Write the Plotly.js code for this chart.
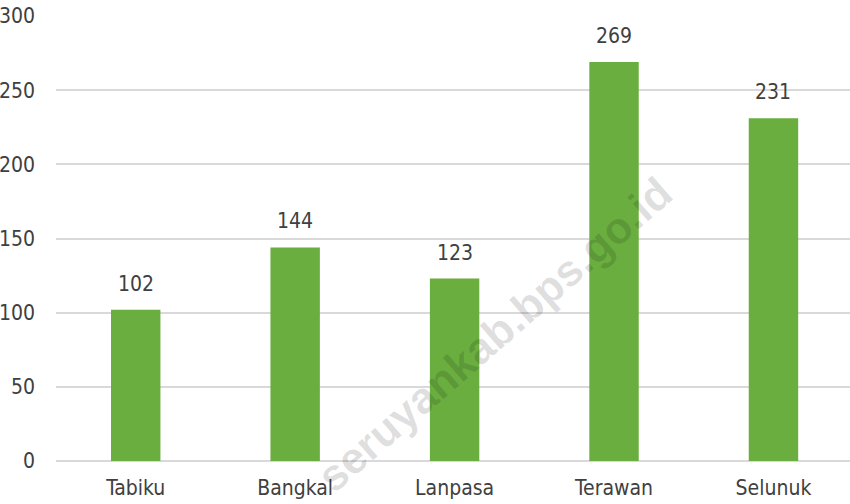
<!DOCTYPE html>
<html>
<head>
<meta charset="utf-8">
<script src="https://cdn.plot.ly/plotly-3.0.1.min.js"></script>
<style>
html,body{margin:0;padding:0;background:#fff;}
#chart{width:850px;height:504px;}
</style>
</head>
<body>
<div id="chart"></div>
<script>
const categories = ["Tabiku", "Bangkal", "Lanpasa", "Terawan", "Selunuk"];
const values = [102, 144, 123, 269, 231];
const yTicks = [0, 50, 100, 150, 200, 250, 300];
const watermarkText = "seruyankab.bps.go.id";

const labelFont = {family: "DejaVu Sans Condensed, Liberation Sans Narrow, sans-serif", size: 21, color: "#404040"};

const trace = {
  type: "bar",
  x: categories,
  y: values,
  marker: {color: "#6aae3f"},
  hoverinfo: "x+y"
};

const W = 850, H = 504, ml = 56, mr = 0, mt = 16, mb = 43;
const pw = W - ml - mr, ph = H - mt - mb;

const annotations = categories.map((c, i) => ({
  x: c, y: values[i], xref: "x", yref: "y",
  text: String(values[i]),
  showarrow: false, yanchor: "bottom", yshift: 12,
  font: labelFont
}));

annotations.push({
  x: (494 - ml) / pw, y: (H - mb - 334) / ph, xref: "paper", yref: "paper",
  text: watermarkText, showarrow: false, textangle: -41,
  font: {family: "Liberation Sans, Arial, sans-serif", size: 44, color: "rgba(0,0,0,0.13)", weight: 700},
  xanchor: "center", yanchor: "middle"
});

const layout = {
  width: W, height: H,
  margin: {l: ml, r: mr, t: mt, b: mb, pad: 0},
  paper_bgcolor: "#ffffff", plot_bgcolor: "#ffffff",
  bargap: 0.69,
  showlegend: false,
  xaxis: {
    type: "category",
    range: [-0.5, 4.48],
    showgrid: false, zeroline: false, showline: false,
    ticks: "", tickfont: labelFont, ticklabelstandoff: 12,
    fixedrange: true
  },
  yaxis: {
    range: [0, 300],
    tickvals: yTicks,
    ticktext: yTicks.map(String),
    showgrid: true, gridcolor: "#d9d9d9", gridwidth: 2,
    zeroline: true, zerolinecolor: "#d9d9d9", zerolinewidth: 2,
    showline: false, ticks: "",
    tickfont: labelFont, ticklabelstandoff: 20,
    fixedrange: true
  },
  annotations: annotations
};

Plotly.newPlot("chart", [trace], layout, {displayModeBar: false, staticPlot: true});
</script>
</body>
</html>
